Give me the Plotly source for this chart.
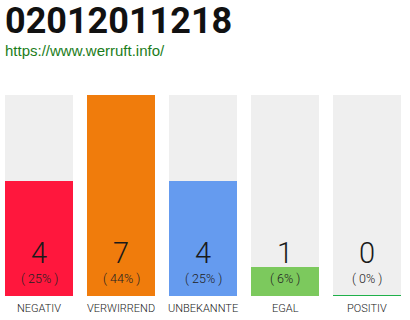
import plotly.graph_objects as go

title_text = "02012011218"
url_text = "https://www.werruft.info/"
categories = ["NEGATIV", "VERWIRREND", "UNBEKANNTE", "EGAL", "POSITIV"]
counts = [4, 7, 4, 1, 0]
percents = ["25%", "44%", "25%", "6%", "0%"]
colors = ["#ff173d", "#f07c0c", "#659bef", "#7cc95d", "#1fb04a"]
bg_color = "#efefef"

FONT = "Roboto, sans-serif"

W, H = 410, 320
top_px, bot_px = 95, 296
ymax = max(counts)
x_idx = list(range(len(categories)))

fig = go.Figure()
fig.add_trace(go.Bar(x=x_idx, y=[ymax] * len(categories), marker_color=bg_color,
                     marker_line_width=0, width=0.829, hoverinfo="skip"))
fig.add_trace(go.Bar(x=x_idx, y=counts, marker_color=colors,
                     marker_line_color=colors,
                     marker_line_width=[0 if c > 0 else 2 for c in counts],
                     width=0.829, hoverinfo="skip"))

def data_y(px):
    return (bot_px - px) / (bot_px - top_px) * ymax

def paper_y(px):
    return (bot_px - px) / (bot_px - top_px)

annotations = []
for i, (c, p, cat) in enumerate(zip(counts, percents, categories)):
    annotations.append(dict(x=i, y=data_y(253), xref="x", yref="y", yanchor="middle", text=str(c),
                            showarrow=False, font=dict(family=FONT, size=29, weight=300, color="#1a1a1a")))
    annotations.append(dict(x=i, y=data_y(278), xref="x", yref="y", yanchor="middle", text="( " + p + " )",
                            showarrow=False, font=dict(family=FONT, size=12.5, weight=300, color="#222222")))
    annotations.append(dict(x=i, y=paper_y(308), xref="x", yref="paper", yanchor="middle", text=cat,
                            showarrow=False, font=dict(family=FONT, size=11, weight=300, color="#222222")))

annotations.append(dict(x=0.0, y=paper_y(21), xref="paper", yref="paper", xanchor="left", yanchor="middle",
                        xshift=3, text="<b>" + title_text + "</b>", showarrow=False,
                        font=dict(family=FONT, size=36, weight=700, color="#111111")))
annotations.append(dict(x=0.0, y=paper_y(50), xref="paper", yref="paper", xanchor="left", yanchor="middle",
                        xshift=3, text=url_text, showarrow=False,
                        font=dict(family="Liberation Sans, Arial, sans-serif", size=15, color="#1b7d1b")))

fig.update_layout(
    width=W, height=H, margin=dict(l=0, r=0, t=top_px, b=H - bot_px, pad=0),
    barmode="overlay", bargap=0, showlegend=False,
    paper_bgcolor="white", plot_bgcolor="white",
    xaxis=dict(range=[-39 / 82, (W - 39) / 82], visible=False, fixedrange=True),
    yaxis=dict(range=[0, ymax], visible=False, fixedrange=True),
    annotations=annotations,
)

fig.write_html("out.html")
